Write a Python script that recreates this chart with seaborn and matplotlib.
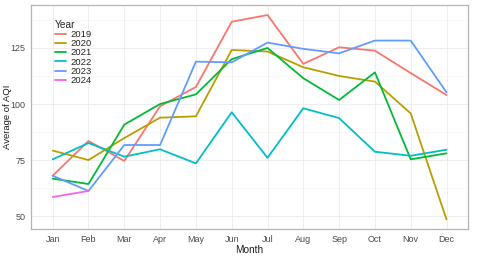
import pandas as pd
import matplotlib.pyplot as plt
import seaborn as sns
from matplotlib.ticker import MultipleLocator

sns.set_theme(style="white")
plt.rcParams['font.family'] = ['Liberation Sans', 'DejaVu Sans']

# Data
months = ['Jan', 'Feb', 'Mar', 'Apr', 'May', 'Jun', 'Jul', 'Aug', 'Sep', 'Oct', 'Nov', 'Dec']
aqi_2019 = [68.0, 83.5, 74.6, 99.0, 107.6, 136.7, 139.7, 117.9, 125.3, 123.8, 113.8, 104.0]
aqi_2020 = [79.2, 75.0, 84.8, 93.9, 94.5, 124.1, 123.4, 116.4, 112.5, 110.0, 95.8, 48.5]
aqi_2021 = [66.7, 64.3, 90.8, 100.0, 104.3, 120.0, 125.0, 111.5, 101.8, 114.1, 75.3, 78.0]
aqi_2022 = [75.3, 82.6, 76.5, 79.8, 73.5, 96.3, 76.0, 98.1, 93.7, 78.7, 76.9, 79.6]
aqi_2023 = [68.0, 61.2, 81.7, 81.7, 118.9, 118.6, 127.4, 124.6, 122.6, 128.3, 128.3, 105.2]
aqi_2024 = [58.5, 61.2]

series = {'2019': aqi_2019, '2020': aqi_2020, '2021': aqi_2021,
          '2022': aqi_2022, '2023': aqi_2023, '2024': aqi_2024}
colors = ['#F8766D', '#B79F00', '#00BA38', '#00BFC4', '#619CFF', '#F564E3']

rows = []
for year, vals in series.items():
    for i, v in enumerate(vals):
        rows.append({'Year': year, 'Month': months[i], 'idx': i, 'AQI': v})
df = pd.DataFrame(rows)

fig = plt.figure(figsize=(4.8, 2.6), dpi=100)
ax = fig.add_axes([0.065, 0.119, 0.910, 0.862])

sns.lineplot(data=df, x='idx', y='AQI', hue='Year', palette=colors,
             linewidth=1.3, ax=ax, estimator=None, sort=False)

ax.set_xlim(-0.6, 11.6)
ax.set_ylim(44.2, 144.2)
ax.set_xticks(range(12))
ax.set_xticklabels(months)
ax.yaxis.set_major_locator(MultipleLocator(25))
ax.yaxis.set_minor_locator(MultipleLocator(12.5))
ax.grid(which='major', color='#EBEBEB', linewidth=0.6)
ax.grid(which='minor', axis='y', color='#F4F4F4', linewidth=0.4)
ax.set_axisbelow(True)
for s in ax.spines.values():
    s.set_color('#B3B3B3')
    s.set_linewidth(0.9)
ax.tick_params(axis='both', which='major', labelsize=6.5, colors='#B3B3B3',
               length=2.5, width=0.6, labelcolor='#4D4D4D', pad=1.5)
ax.tick_params(axis='y', which='minor', length=0)

ax.set_xlabel('Month', fontsize=7.2, color='#1A1A1A', labelpad=1)
ax.set_ylabel('Average of AQI', fontsize=6.8, color='#1A1A1A')
ax.yaxis.set_label_coords(-0.045, 0.5)

leg = ax.legend(title='Year', loc='upper left', bbox_to_anchor=(0.045, 0.95),
                frameon=False, fontsize=6.8, title_fontsize=7.3,
                handlelength=1.2, handletextpad=0.5, labelspacing=0.02,
                borderaxespad=0)
leg._legend_box.align = 'left'
for line in leg.get_lines():
    line.set_linewidth(1.3)

fig.savefig('out.png', dpi=100)
